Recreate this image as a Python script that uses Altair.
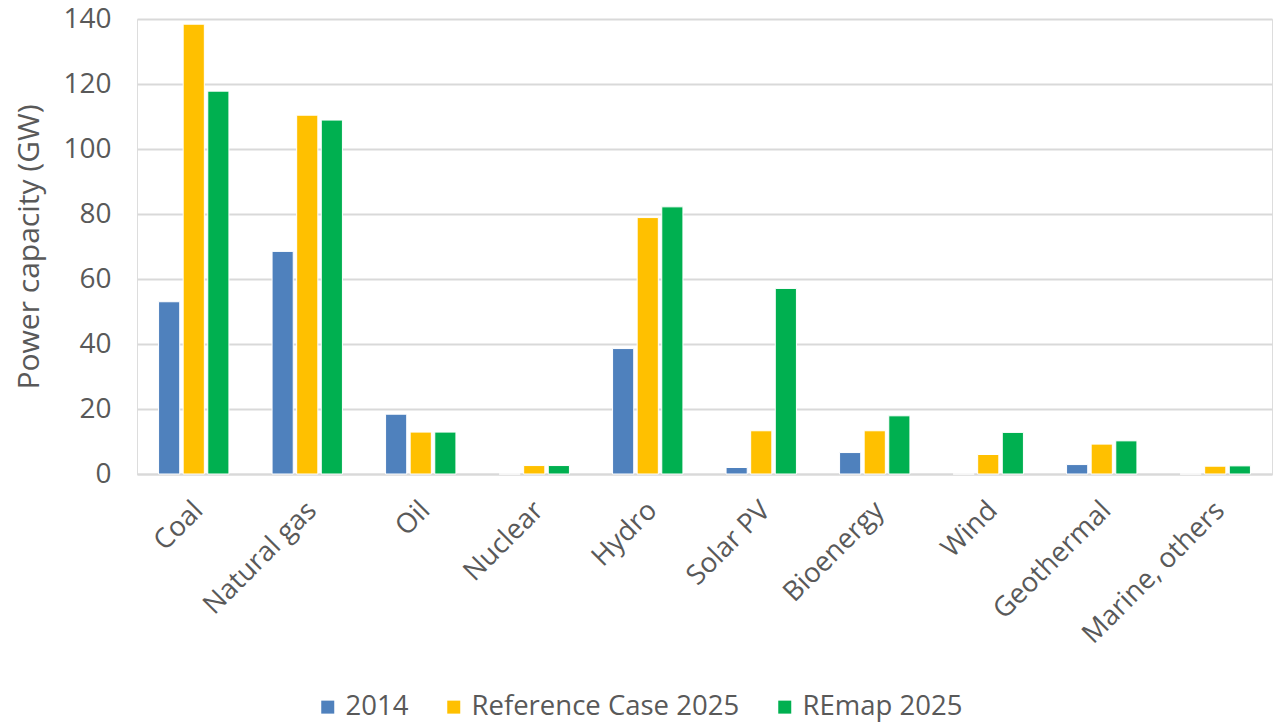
import altair as alt
import pandas as pd

categories = ["Coal", "Natural gas", "Oil", "Nuclear", "Hydro", "Solar PV",
              "Bioenergy", "Wind", "Geothermal", "Marine, others"]
series = ["2014", "Reference Case 2025", "REmap 2025"]
v2014 = [53.0, 68.5, 18.4, 0.0, 38.6, 2.0, 6.6, 0.0, 2.9, 0.0]
vref = [138.4, 110.4, 12.9, 2.6, 78.9, 13.3, 13.3, 6.0, 9.2, 2.4]
vremap = [117.8, 108.9, 12.9, 2.6, 82.2, 57.1, 17.9, 12.8, 10.2, 2.5]
colors = ["#4F81BD", "#FFC000", "#00B050"]

rows = []
for i, c in enumerate(categories):
    for s, vals in zip(series, [v2014, vref, vremap]):
        rows.append({"category": c, "series": s, "value": vals[i]})
df = pd.DataFrame(rows)

font = "Open Sans"
grey = "#595959"

chart = alt.Chart(df).mark_bar(stroke="white", strokeWidth=1).encode(
    x=alt.X("category:N", sort=categories, title=None,
            scale=alt.Scale(paddingInner=0.38, paddingOuter=0.19),
            axis=alt.Axis(labelAngle=-45, labelAlign="right", labelBaseline="middle",
                          labelPadding=32, labelOffset=5, ticks=False,
                          labelFontSize=27.5, labelColor=grey, labelFont=font,
                          labelLimit=0,
                          domainColor="#D9D9D9", domainWidth=2)),
    xOffset=alt.XOffset("series:N", sort=series,
                        scale=alt.Scale(paddingInner=0.14)),
    y=alt.Y("value:Q", title="Power capacity (GW)",
            scale=alt.Scale(domain=[0, 140], nice=False),
            axis=alt.Axis(values=[0, 20, 40, 60, 80, 100, 120, 140], domain=False,
                          ticks=False, labelPadding=26, labelFontSize=28,
                          labelColor=grey, labelFont=font,
                          titleFontSize=30, titleColor=grey, titleFont=font,
                          titleFontWeight="normal", titlePadding=18,
                          gridColor="#D9D9D9", gridWidth=2)),
    color=alt.Color("series:N", sort=series,
                    scale=alt.Scale(domain=series, range=colors),
                    legend=alt.Legend(title=None, orient="none", direction="horizontal",
                                      legendX=177, legendY=674,
                                      symbolType="square", symbolSize=169,
                                      symbolStrokeWidth=0, labelFontSize=27.5,
                                      labelColor=grey, labelFont=font,
                                      labelLimit=0,
                                      labelOffset=4, columnPadding=31)),
).properties(
    width=1135, height=455,
    autosize=alt.AutoSizeParams(type="none"),
    padding={"left": 137, "top": 19, "right": 2, "bottom": 250},
).configure_view(stroke=None).configure(background="white")

chart.save("out.html", embed_options={"renderer": "svg", "actions": False})
